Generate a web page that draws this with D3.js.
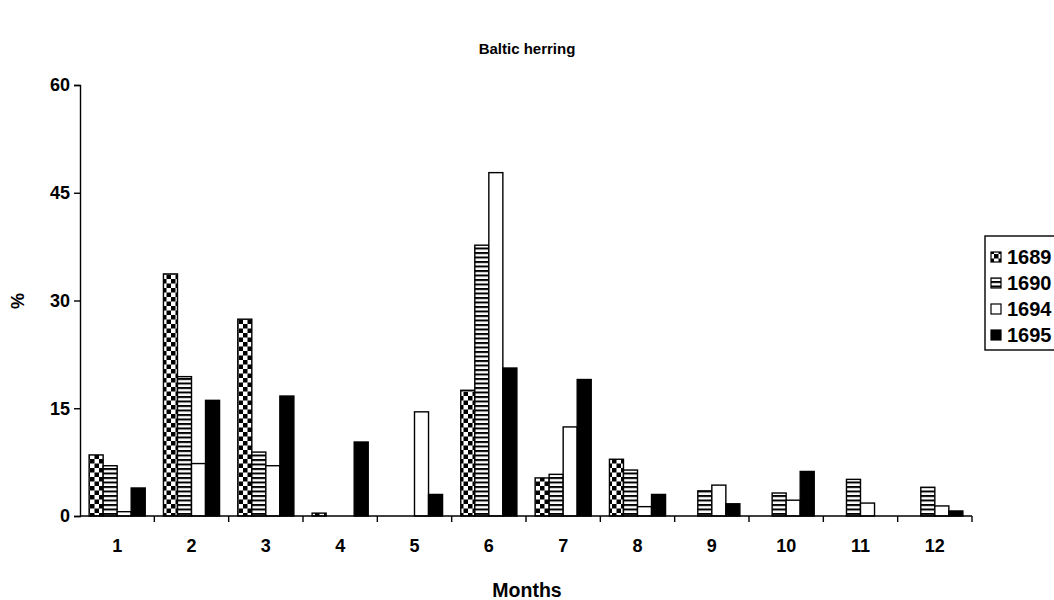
<!DOCTYPE html>
<html>
<head>
<meta charset="utf-8">
<script src="https://cdn.jsdelivr.net/npm/d3@7"></script>
<style>
  body { margin: 0; background: #fff; }
  svg { display: block; font-family: "Liberation Sans", Arial, sans-serif; font-weight: bold; }
</style>
</head>
<body>
<svg id="chart" width="1054" height="600"></svg>
<script>
// Baltic herring catch share by month, per year
const months = ["1","2","3","4","5","6","7","8","9","10","11","12"];
const years = ["1689","1690","1694","1695"];
const v1689 = [8.5, 33.7, 27.4, 0.4, 0, 17.5, 5.3, 7.9, 0, 0, 0, 0];
const v1690 = [7.0, 19.4, 8.9, 0, 0, 37.7, 5.8, 6.4, 3.5, 3.2, 5.1, 4.0];
const v1694 = [0.6, 7.3, 7.0, 0, 14.5, 47.8, 12.4, 1.3, 4.3, 2.2, 1.8, 1.4];
const v1695 = [3.9, 16.1, 16.7, 10.3, 3.0, 20.6, 19.0, 3.0, 1.7, 6.2, 0, 0.7];
const yTicks = [0, 15, 30, 45, 60];

const series = [v1689, v1690, v1694, v1695];

const svg = d3.select("#chart");
const margin = { left: 80, right: 82, top: 85, bottom: 84 };
const W = 1054, H = 600;

// fill patterns: checker, horizontal stripes, plain white, solid black
const defs = svg.append("defs");
const chk = defs.append("pattern").attr("id", "pChk")
  .attr("patternUnits", "userSpaceOnUse").attr("width", 9).attr("height", 9);
chk.append("rect").attr("width", 9).attr("height", 9).attr("fill", "#fff");
chk.append("rect").attr("width", 4.5).attr("height", 4.5).attr("fill", "#000");
chk.append("rect").attr("x", 4.5).attr("y", 4.5).attr("width", 4.5).attr("height", 4.5).attr("fill", "#000");

const str = defs.append("pattern").attr("id", "pStr")
  .attr("patternUnits", "userSpaceOnUse").attr("width", 8).attr("height", 4.5);
str.append("rect").attr("width", 8).attr("height", 4.5).attr("fill", "#fff");
str.append("rect").attr("width", 8).attr("height", 2).attr("fill", "#000");

const fills = ["url(#pChk)", "url(#pStr)", "#fff", "#000"];

const x = d3.scaleBand().domain(months)
  .range([margin.left, W - margin.right]).paddingInner(0).paddingOuter(0);
const xs = d3.scaleBand().domain(years)
  .range([0, x.bandwidth()]).paddingInner(0).paddingOuter(0.65);
const y = d3.scaleLinear().domain([0, 60]).range([H - margin.bottom, margin.top]);

// bars
const g = svg.append("g");
years.forEach((yr, si) => {
  g.selectAll(null).data(months.map((m, i) => ({ m, v: series[si][i] })))
    .enter().append("rect")
    .filter(d => d.v > 0)
    .attr("x", d => x(d.m) + xs(yr))
    .attr("width", xs.bandwidth())
    .attr("y", d => y(d.v))
    .attr("height", d => y(0) - y(d.v))
    .attr("fill", fills[si])
    .attr("stroke", "#000")
    .attr("stroke-width", 1.4);
});

// y axis
const yAxis = svg.append("g").attr("transform", `translate(${margin.left},0)`)
  .call(d3.axisLeft(y).tickValues(yTicks).tickSize(6).tickPadding(4));
yAxis.select(".domain").attr("stroke-width", 1.4);
yAxis.selectAll(".tick line").attr("stroke-width", 1.4);
yAxis.selectAll("text").attr("font-size", 18).attr("font-weight", "bold")
  .attr("font-family", "Liberation Sans, Arial, sans-serif").attr("fill", "#000");

// x axis: ticks at category boundaries
const xAxis = svg.append("g").attr("transform", `translate(0,${y(0)})`);
xAxis.append("line").attr("x1", margin.left).attr("x2", W - margin.right)
  .attr("stroke", "#000").attr("stroke-width", 1.4);
const bounds = months.map(m => x(m) + x.bandwidth());
xAxis.selectAll(".tk").data(bounds).enter().append("line")
  .attr("x1", d => d).attr("x2", d => d).attr("y1", 0).attr("y2", 6)
  .attr("stroke", "#000").attr("stroke-width", 1.4);
xAxis.selectAll(".lbl").data(months).enter().append("text")
  .attr("x", d => x(d) + x.bandwidth() / 2).attr("y", 36)
  .attr("text-anchor", "middle").attr("font-size", 18).text(d => d);

// titles
svg.append("text").attr("x", 527).attr("y", 54).attr("text-anchor", "middle")
  .attr("font-size", 15).text("Baltic herring");
svg.append("text").attr("x", 527).attr("y", 597).attr("text-anchor", "middle")
  .attr("font-size", 19.5).text("Months");
svg.append("text").attr("transform", "translate(24,301) rotate(-90)")
  .attr("text-anchor", "middle").attr("font-size", 18).text("%");

// legend
const lg = svg.append("g").attr("transform", "translate(985,236)");
lg.append("rect").attr("width", 80).attr("height", 114)
  .attr("fill", "#fff").attr("stroke", "#000").attr("stroke-width", 1.4);
years.forEach((yr, i) => {
  const yy = 21 + i * 26;
  lg.append("rect").attr("x", 6).attr("y", yy - 5).attr("width", 10).attr("height", 10)
    .attr("fill", fills[i]).attr("stroke", "#000").attr("stroke-width", 1.2);
  lg.append("text").attr("x", 22).attr("y", yy + 7).attr("font-size", 20).text(yr);
});
</script>
</body>
</html>
